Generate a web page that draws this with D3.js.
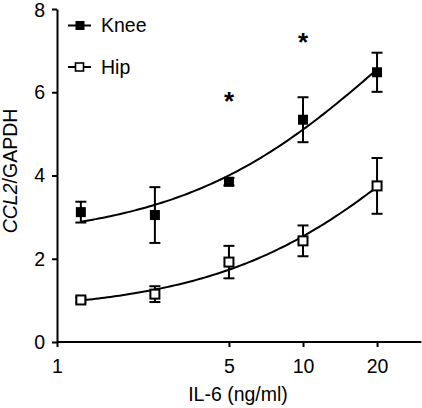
<!DOCTYPE html>
<html>
<head>
<meta charset="utf-8">
<script src="https://cdn.jsdelivr.net/npm/d3@7"></script>
<style>
  html, body { margin: 0; padding: 0; background: #fff; }
  svg { display: block; font-family: "Liberation Sans", Arial, sans-serif; }
</style>
</head>
<body>
<svg id="chart" width="422" height="408"></svg>
<script>
// ---- data ----
const doses = [1.25, 2.5, 5, 10, 20];           // IL-6 (ng/ml)
const kneeMean = [3.12, 3.05, 3.85, 5.34, 6.48];
const kneeErr  = [0.25, 0.67, 0.09, 0.54, 0.47];
const hipMean  = [1.01, 1.15, 1.92, 2.43, 3.75];
const hipErr   = [0.06, 0.19, 0.39, 0.37, 0.67];
const xTicks = [1, 5, 10, 20];
const yTicks = [0, 2, 4, 6, 8];
const starX = [5, 10];
const starY = [5.93, 7.33];
const seriesNames = ["Knee", "Hip"];

// ---- layout ----
const svg = d3.select("#chart");
const x0 = 57, x10 = 303;
const perDecade = x10 - x0;
const x = d3.scaleLog().domain([1, 30]).range([x0, x0 + perDecade * Math.log10(30)]);
const y = d3.scaleLinear().domain([0, 8]).range([342, 9]);
const FS = "19.5px";

// ---- fit: y = c + B*x/(K+x), least squares (grid over K) ----
function fit(xs, ys) {
  let best = null;
  for (let i = 0; i <= 800; i++) {
    const K = Math.pow(10, -1 + i * 5 / 800);
    const f = xs.map(v => v / (K + v));
    const mf = d3.mean(f), my = d3.mean(ys);
    let sxy = 0, sxx = 0;
    f.forEach((fv, j) => { sxy += (fv - mf) * (ys[j] - my); sxx += (fv - mf) ** 2; });
    const B = sxy / sxx, c = my - B * mf;
    let sse = 0;
    f.forEach((fv, j) => { sse += (ys[j] - (c + B * fv)) ** 2; });
    if (!best || sse < best.sse) best = { K, B, c, sse };
  }
  return v => best.c + best.B * v / (best.K + v);
}

const series = [
  { name: seriesNames[0], mean: kneeMean, err: kneeErr, fill: "#000" },
  { name: seriesNames[1], mean: hipMean, err: hipErr, fill: "#fff" }
];

// ---- axes ----
const yAxis = svg.append("g")
  .attr("transform", `translate(${x0},0)`)
  .call(d3.axisLeft(y).tickValues(yTicks).tickSize(5).tickSizeOuter(0).tickPadding(7));
const xAxis = svg.append("g")
  .attr("transform", `translate(0,${y(0)})`)
  .call(d3.axisBottom(x).tickValues(xTicks).tickFormat(d3.format("d")).tickSize(5).tickSizeOuter(0).tickPadding(12));
[xAxis, yAxis].forEach(g => {
  g.select(".domain").attr("stroke", "#000").attr("stroke-width", 2);
  g.selectAll(".tick line").attr("stroke", "#000").attr("stroke-width", 2);
  g.selectAll(".tick text").attr("fill", "#000").style("font-size", FS).style("font-family", "'Liberation Sans', Arial, sans-serif");
});
// keep the top label fully inside the picture
yAxis.selectAll(".tick text").filter(d => d === 8).attr("dy", "0.40em");
// extend x axis line to the right edge
xAxis.select(".domain").attr("d", `M${x0},0H${x.range()[1] + 1}`);

// axis titles
svg.append("text")
  .attr("x", 238).attr("y", 401)
  .attr("text-anchor", "middle")
  .style("font-size", FS)
  .text("IL-6 (ng/ml)");
const yl = svg.append("text")
  .attr("transform", "translate(16.5,171) rotate(-90)")
  .attr("text-anchor", "middle")
  .style("font-size", FS);
yl.append("tspan").style("font-style", "italic").text("CCL2");
yl.append("tspan").text("/GAPDH");

// ---- curves ----
const line = d3.line().x(d => x(d[0])).y(d => y(d[1]));
series.forEach(s => {
  const f = fit(doses, s.mean);
  const lo = d3.min(doses), hi = d3.max(doses);
  const pts = d3.range(0, 101).map(i => {
    const v = Math.exp(Math.log(lo) + (Math.log(hi) - Math.log(lo)) * i / 100);
    return [v, f(v)];
  });
  svg.append("path").datum(pts)
    .attr("d", line).attr("fill", "none").attr("stroke", "#000").attr("stroke-width", 2);
});

// ---- error bars and markers ----
const capW = 11;
series.forEach(s => {
  const g = svg.append("g");
  doses.forEach((d, i) => {
    const cx = x(d), top = y(s.mean[i] + s.err[i]), bot = y(s.mean[i] - s.err[i]);
    g.append("line").attr("x1", cx).attr("x2", cx).attr("y1", top).attr("y2", bot)
      .attr("stroke", "#000").attr("stroke-width", 2);
    [top, bot].forEach(yy => g.append("line")
      .attr("x1", cx - capW / 2).attr("x2", cx + capW / 2).attr("y1", yy).attr("y2", yy)
      .attr("stroke", "#000").attr("stroke-width", 2));
  });
  doses.forEach((d, i) => {
    const cx = x(d), cy = y(s.mean[i]);
    if (s.fill === "#000") {
      g.append("rect").attr("x", cx - 5).attr("y", cy - 5).attr("width", 10).attr("height", 10)
        .attr("fill", "#000");
    } else {
      g.append("rect").attr("x", cx - 4.5).attr("y", cy - 4.5).attr("width", 9).attr("height", 9)
        .attr("fill", "#fff").attr("stroke", "#000").attr("stroke-width", 2);
    }
  });
});

// ---- significance stars ----
starX.forEach((sx, i) => {
  svg.append("text").attr("x", x(sx)).attr("y", y(starY[i]) + 14.5)
    .attr("text-anchor", "middle").style("font-size", "26px").style("font-weight", "bold").text("*");
});

// ---- legend ----
const legY = [25.5, 67];
series.forEach((s, i) => {
  const g = svg.append("g");
  g.append("line").attr("x1", 68).attr("x2", 91).attr("y1", legY[i]).attr("y2", legY[i])
    .attr("stroke", "#000").attr("stroke-width", 2);
  if (s.fill === "#000") {
    g.append("rect").attr("x", 75.5).attr("y", legY[i] - 4.5).attr("width", 9).attr("height", 9).attr("fill", "#000");
  } else {
    g.append("rect").attr("x", 75.5).attr("y", legY[i] - 4).attr("width", 8).attr("height", 8)
      .attr("fill", "#fff").attr("stroke", "#000").attr("stroke-width", 1.6);
  }
  g.append("text").attr("x", 101).attr("y", legY[i] + 6.8).style("font-size", FS).text(s.name);
});
</script>
</body>
</html>
